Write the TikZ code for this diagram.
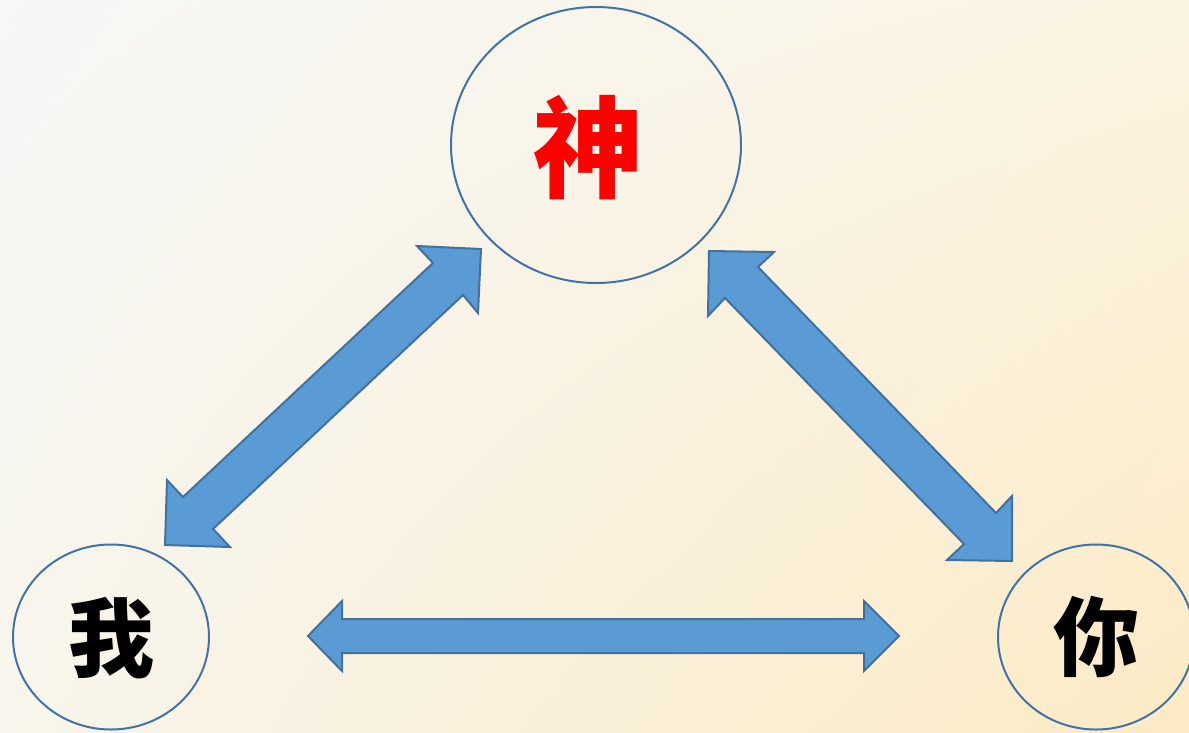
\documentclass[tikz,border=0pt]{standalone}
\usepackage{fontspec}
\newfontfamily\cjk{Noto Sans CJK SC}
\usetikzlibrary{shapes.geometric,shadings}
\definecolor{bgTL}{HTML}{F6F7F6}
\definecolor{bgTR}{HTML}{FBF4E2}
\definecolor{bgBL}{HTML}{F8F5EC}
\definecolor{bgBR}{HTML}{FCEAC4}
\definecolor{arrfill}{HTML}{5B9BD5}
\definecolor{arrline}{HTML}{41719C}
\definecolor{ringline}{HTML}{4472A6}
\tikzset{
  ring/.style={draw=ringline, line width=2pt, ellipse, inner sep=0pt},
  blockarrow/.style={fill=arrfill, draw=arrline, line width=2pt, line join=miter},
  bigchar/.style={font=\cjk\bfseries\fontsize{#1}{#1}\selectfont},
}
\begin{document}
\begin{tikzpicture}[x=1pt,y=-1pt]
\useasboundingbox (0,0) rectangle (1189,732);
\clip (0,0) rectangle (1189,732);
\shade[upper left=bgTL, upper right=bgTR, lower left=bgBL, lower right=bgBR] (0,0) rectangle (1189,732);
% nodes
\node[ring, minimum width=290pt, minimum height=276pt] (god) at (596,145) {};
\node[ring, minimum width=196pt, minimum height=185pt] (me) at (111,637) {};
\node[ring, minimum width=196pt, minimum height=185pt] (you) at (1096,637) {};
\node[bigchar=110, text=red] (godt) at (588,148) {神};
\node[bigchar=86, text=black] (met) at (111,638) {我};
\node[bigchar=86, text=black] (yout) at (1096,637) {你};
% left diagonal arrow
\draw[blockarrow] (481,249) -- (417,246) -- (433,263) -- (183,497) -- (167,480)
  -- (165,545) -- (230,547) -- (213,529) -- (463,295) -- (478,313) -- cycle;
% right diagonal arrow
\draw[blockarrow] (709,251) -- (774,252) -- (758,267) -- (996,513) -- (1012,496)
  -- (1012,561) -- (947,560) -- (964,544) -- (725,298) -- (708,316) -- cycle;
% horizontal arrow
\draw[blockarrow] (308,636) -- (342,601) -- (342,619) -- (864,619) -- (864,601)
  -- (899,636) -- (864,671) -- (864,653) -- (342,653) -- (342,671) -- cycle;
\end{tikzpicture}
\end{document}
